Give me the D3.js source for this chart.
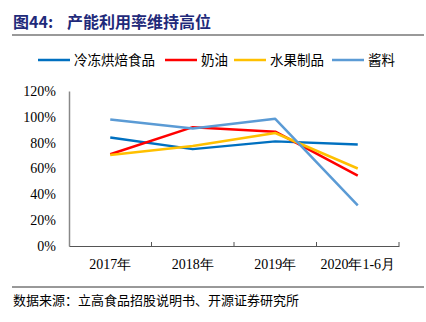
<!DOCTYPE html>
<html>
<head>
<meta charset="utf-8">
<script src="https://cdn.jsdelivr.net/npm/d3@7/dist/d3.min.js"></script>
<style>
  html, body { margin: 0; padding: 0; background: #fff; }
  svg { display: block; }
</style>
</head>
<body>
<svg id="chart" width="426" height="322"></svg>
<script>
// Capacity utilisation by product line, 2017 – 2020H1
const categories = ["2017年", "2018年", "2019年", "2020年1-6月"];
const seriesNames = ["冷冻烘焙食品", "奶油", "水果制品", "酱料"];
const frozenBakery = [0.84, 0.75, 0.81, 0.785];
const cream = [0.71, 0.92, 0.885, 0.545];
const fruitProducts = [0.705, 0.775, 0.875, 0.60];
const sauces = [0.98, 0.91, 0.985, 0.315];
const yTicks = [0, 0.2, 0.4, 0.6, 0.8, 1.0, 1.2];
const seriesColors = ["#0070C0", "#FF0000", "#FFC000", "#5B9BD5"];

const seriesValues = [frozenBakery, cream, fruitProducts, sauces];

const svg = d3.select("#chart");
const serif = "'Liberation Serif', 'Times New Roman', serif";
const cjk = "'Noto Sans CJK SC', sans-serif";

// Title
const title = svg.append("text")
  .attr("x", 13).attr("y", 28)
  .attr("font-family", cjk)
  .attr("font-weight", "bold")
  .attr("font-size", 16)
  .attr("fill", "#1F2A7A");
title.append("tspan").text("图44:");
title.append("tspan").attr("dx", 14).text("产能利用率维持高位");
svg.append("line")
  .attr("x1", 12).attr("x2", 424).attr("y1", 35).attr("y2", 35)
  .attr("stroke", "#999").attr("stroke-width", 2);

// Scales
const x = d3.scaleBand().domain(categories).range([69, 399]).padding(0);
const y = d3.scaleLinear().domain([0, 1.2]).range([246, 91]);

// Y axis
const yAxis = d3.axisLeft(y).tickValues(yTicks)
  .tickFormat(d => Math.round(d * 100) + "%")
  .tickSize(0).tickPadding(13);
const gy = svg.append("g").attr("transform", "translate(69,0)").call(yAxis);
gy.select(".domain").attr("stroke", "#888").attr("stroke-width", 1.5);
gy.selectAll("text").attr("font-family", serif).attr("font-size", 14).attr("fill", "#000");

// X axis
const xAxis = d3.axisBottom(x).tickSize(0).tickPadding(13);
const gx = svg.append("g").attr("transform", "translate(0,246)").call(xAxis);
gx.select(".domain").attr("stroke", "#555").attr("stroke-width", 1);
gx.selectAll("text").attr("font-family", serif).attr("font-size", 14).attr("fill", "#000");
// category boundary ticks
const bounds = categories.map(c => x(c) + x.bandwidth());
gx.selectAll(".bound").data(bounds).enter().append("line")
  .attr("x1", d => d).attr("x2", d => d).attr("y1", -4).attr("y2", 0)
  .attr("stroke", "#555").attr("stroke-width", 1);

// Lines
const line = d3.line()
  .x((d, i) => x(categories[i]) + x.bandwidth() / 2)
  .y(d => y(d));
svg.append("g").selectAll("path").data(seriesValues).enter().append("path")
  .attr("d", line)
  .attr("fill", "none")
  .attr("stroke", (d, i) => seriesColors[i])
  .attr("stroke-width", 2.5)
  .attr("stroke-linejoin", "round");

// Legend
const legendX = [38, 165, 234, 332];
const lg = svg.append("g");
seriesNames.forEach((name, i) => {
  lg.append("line")
    .attr("x1", legendX[i]).attr("x2", legendX[i] + 32)
    .attr("y1", 60).attr("y2", 60)
    .attr("stroke", seriesColors[i]).attr("stroke-width", 2.5);
  lg.append("text")
    .attr("x", legendX[i] + 36).attr("y", 65)
    .attr("font-family", cjk).attr("font-size", 13.5).attr("fill", "#000")
    .text(name);
});

// Footer
svg.append("line")
  .attr("x1", 12).attr("x2", 424).attr("y1", 287).attr("y2", 287)
  .attr("stroke", "#333").attr("stroke-width", 1);
svg.append("text")
  .attr("x", 13).attr("y", 305)
  .attr("font-family", cjk).attr("font-size", 13).attr("fill", "#000")
  .text("数据来源：立高食品招股说明书、开源证券研究所");
</script>
</body>
</html>
